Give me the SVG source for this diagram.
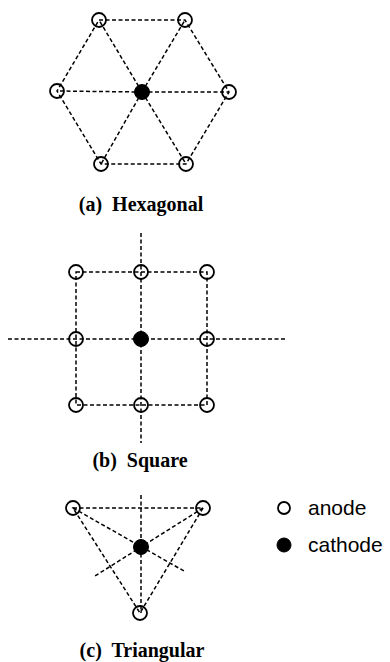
<svg xmlns="http://www.w3.org/2000/svg" width="390" height="662" viewBox="0 0 390 662">
<style>
.d{stroke:#000;stroke-width:1.5;stroke-dasharray:4 2.5;fill:none}
.a{fill:none;stroke:#000;stroke-width:1.8}
.c{fill:#000;stroke:#000;stroke-width:1}
.cap{font-family:"Liberation Serif","Times New Roman",serif;font-weight:bold;font-size:20px;text-anchor:middle;white-space:pre}
.lg{font-family:"Liberation Sans",Arial,sans-serif;font-size:21px}
</style>
<rect width="390" height="662" fill="#fff"/>
<g id="connectors">
<path class="d" d="M99 20H185L229 92L186 164H101L57 91Z"/>
<path class="d" d="M142 92L99 20M142 92L185 20M142 92L229 92M142 92L186 164M142 92L101 164M142 92L57 91"/>
<path class="d" d="M76 272H207V405H76Z"/>
<path class="d" d="M8 339H287M141 233V443"/>
<path class="d" d="M73 508H203L140 613Z"/>
<path class="d" d="M141 495V613M73 508L184 571M203 508L95 576"/>
</g>
<g id="hex-anode-1"><circle class="a" cx="99" cy="20" r="7"/></g>
<g id="hex-anode-2"><circle class="a" cx="185" cy="20" r="7"/></g>
<g id="hex-anode-3"><circle class="a" cx="57" cy="91" r="7"/></g>
<g id="hex-anode-4"><circle class="a" cx="229" cy="92" r="7"/></g>
<g id="hex-anode-5"><circle class="a" cx="101" cy="164" r="7"/></g>
<g id="hex-anode-6"><circle class="a" cx="186" cy="164" r="7"/></g>
<g id="hex-cathode"><circle class="c" cx="142" cy="92" r="7.5"/></g>
<g id="sq-anode-1"><circle class="a" cx="76" cy="272" r="7"/></g>
<g id="sq-anode-2"><circle class="a" cx="141" cy="272" r="7"/></g>
<g id="sq-anode-3"><circle class="a" cx="207" cy="272" r="7"/></g>
<g id="sq-anode-4"><circle class="a" cx="76" cy="339" r="7"/></g>
<g id="sq-anode-5"><circle class="a" cx="207" cy="339" r="7"/></g>
<g id="sq-anode-6"><circle class="a" cx="76" cy="405" r="7"/></g>
<g id="sq-anode-7"><circle class="a" cx="141" cy="405" r="7"/></g>
<g id="sq-anode-8"><circle class="a" cx="207" cy="405" r="7"/></g>
<g id="sq-cathode"><circle class="c" cx="141" cy="339" r="7.5"/></g>
<g id="tri-anode-1"><circle class="a" cx="73" cy="508" r="7"/></g>
<g id="tri-anode-2"><circle class="a" cx="203" cy="508" r="7"/></g>
<g id="tri-anode-3"><circle class="a" cx="140" cy="613" r="7"/></g>
<g id="tri-cathode"><circle class="c" cx="141" cy="547" r="7.5"/></g>
<g id="captions">
<text class="cap" x="141" y="211">(a)  Hexagonal</text>
<text class="cap" x="140" y="467">(b)  Square</text>
<text class="cap" x="142" y="657">(c)  Triangular</text>
</g>
<g id="legend">
<circle class="a" cx="284" cy="508" r="6" stroke-width="1.5"/>
<text class="lg" x="308" y="515">anode</text>
<circle class="c" cx="284" cy="545" r="7"/>
<text class="lg" x="308" y="552">cathode</text>
</g>
</svg>
